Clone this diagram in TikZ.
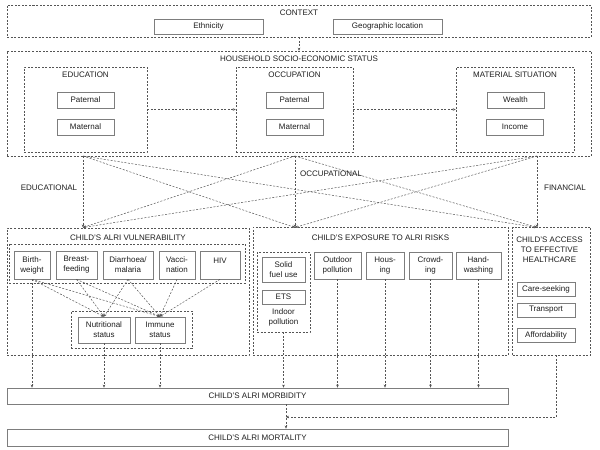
\documentclass[tikz,border=0pt]{standalone}
\usepackage{fontspec}
\setmainfont{Liberation Sans}
\usetikzlibrary{arrows.meta}
\definecolor{boxgray}{RGB}{125,125,125}
\definecolor{dashgray}{RGB}{85,85,85}
\definecolor{txtgray}{RGB}{30,30,30}
\begin{document}
\begin{tikzpicture}[x=1pt,y=-1pt,
  every node/.style={text=txtgray,font=\fontsize{8}{10}\selectfont},
  solidbox/.style={draw=boxgray,line width=0.7pt,inner sep=0pt,align=center},
  groupbox/.style={draw=dashgray,line width=0.5pt,dash pattern=on 2pt off 1.5pt,inner sep=0pt},
  headline/.style={inner sep=0pt,align=center},
  dline/.style={draw=dashgray,line width=0.5pt,dash pattern=on 2pt off 1.5pt,-{Stealth[length=3pt,width=2.6pt]}}]
                \useasboundingbox (0,0) rectangle (600,450);

                % Drawing box CONTEXT
                \node [groupbox,minimum width=584pt,minimum height=32pt] (ctx) at (299.0,21.0) {};%
                \node [headline] (ctxT) at (299.0,12.5) {CONTEXT};%
                \node [solidbox,minimum width=109pt,minimum height=15pt] (ethn) at (208.5,26.5) {Ethnicity};%
                \node [solidbox,minimum width=109pt,minimum height=15pt] (geo) at (387.5,26.5) {Geographic location};%

                % Drawing box HOUSEHOLD
                \node [groupbox,minimum width=584pt,minimum height=105pt] (hh) at (299.0,103.5) {};%
                \node [headline] (hhT) at (299.0,59.0) {HOUSEHOLD SOCIO-ECONOMIC STATUS};%

                % Drawing box EDUCATION
                \node [groupbox,minimum width=123pt,minimum height=85pt] (edu) at (85.5,109.5) {};%
                \node [headline] (eduT) at (85.5,75.0) {EDUCATION};%
                \node [solidbox,minimum width=57pt,minimum height=16pt] (eduP) at (85.5,100.0) {Paternal};%
                \node [solidbox,minimum width=57pt,minimum height=16pt] (eduM) at (85.5,127.0) {Maternal};%

                % Drawing box OCCUPATION
                \node [groupbox,minimum width=117pt,minimum height=85pt] (occ) at (294.5,109.5) {};%
                \node [headline] (occT) at (294.5,75.0) {OCCUPATION};%
                \node [solidbox,minimum width=57pt,minimum height=16pt] (occP) at (294.5,100.0) {Paternal};%
                \node [solidbox,minimum width=57pt,minimum height=16pt] (occM) at (294.5,127.0) {Maternal};%

                % Drawing box MATERIAL SITUATION
                \node [groupbox,minimum width=118pt,minimum height=85pt] (mat) at (515.0,109.5) {};%
                \node [headline] (matT) at (515.0,75.0) {MATERIAL SITUATION};%
                \node [solidbox,minimum width=57pt,minimum height=16pt] (matW) at (515.5,100.0) {Wealth};%
                \node [solidbox,minimum width=57pt,minimum height=16pt] (matI) at (515.0,127.0) {Income};%

                % Drawing arrows inside household
                \draw [dline] (ctx.south) -- (hh.north);%
                \draw [dline] (edu.east) -- (occ.west);%
                \draw [dline] (occ.east) -- (mat.west);%

                % Drawing box CHILD'S ALRI VULNERABILITY
                \node [groupbox,minimum width=242pt,minimum height=127pt] (vul) at (128.0,291.5) {};%
                \node [headline] (vulT) at (128.0,238.0) {CHILD'S ALRI VULNERABILITY};%
                \node [groupbox,minimum width=236pt,minimum height=39pt] (vulG) at (127.0,263.5) {};%
                \node [solidbox,minimum width=36pt,minimum height=28pt] (bw) at (32.0,265.0) {Birth-\\weight};%
                \node [solidbox,minimum width=41pt,minimum height=28pt] (bf) at (76.5,265.0) {Breast-\\feeding};%
                \node [solidbox,minimum width=50pt,minimum height=28pt] (dm) at (128.0,265.0) {Diarrhoea/\\malaria};%
                \node [solidbox,minimum width=36pt,minimum height=28pt] (vac) at (177.0,265.0) {Vacci-\\nation};%
                \node [solidbox,minimum width=40pt,minimum height=28pt,text depth=8pt] (hiv) at (220.0,265.0) {HIV};%
                \node [groupbox,minimum width=121pt,minimum height=37pt] (nutG) at (131.5,329.5) {};%
                \node [solidbox,minimum width=52pt,minimum height=26pt] (nut) at (104.0,330.0) {Nutritional\\status};%
                \node [solidbox,minimum width=50pt,minimum height=26pt] (imm) at (160.0,330.0) {Immune\\status};%

                % Drawing box CHILD'S EXPOSURE TO ALRI RISKS
                \node [groupbox,minimum width=255pt,minimum height=128pt] (exp) at (380.5,291.0) {};%
                \node [headline] (expT) at (380.5,238.0) {CHILD'S EXPOSURE TO ALRI RISKS};%
                \node [groupbox,minimum width=53pt,minimum height=80pt] (ind) at (283.5,292.0) {};%
                \node [solidbox,minimum width=43pt,minimum height=25pt] (sfu) at (283.5,269.5) {Solid\\fuel use};%
                \node [solidbox,minimum width=43pt,minimum height=14pt] (ets) at (283.5,297.0) {ETS};%
                \node [headline] (indT) at (283.5,317.0) {Indoor\\pollution};%
                \node [solidbox,minimum width=47pt,minimum height=27pt] (outd) at (337.5,265.5) {Outdoor\\pollution};%
                \node [solidbox,minimum width=38pt,minimum height=27pt] (hous) at (385.0,265.5) {Hous-\\ing};%
                \node [solidbox,minimum width=43pt,minimum height=27pt] (crowd) at (430.5,265.5) {Crowd-\\ing};%
                \node [solidbox,minimum width=45pt,minimum height=27pt] (hand) at (478.5,265.5) {Hand-\\washing};%

                % Drawing box CHILD'S ACCESS TO EFFECTIVE HEALTHCARE
                \node [groupbox,minimum width=78pt,minimum height=128pt] (acc) at (551.5,291.0) {};%
                \node [headline] (accT) at (549.5,250.0) {CHILD'S ACCESS\\TO EFFECTIVE\\HEALTHCARE};%
                \node [solidbox,minimum width=58pt,minimum height=14pt] (care) at (546.0,289.5) {Care-seeking};%
                \node [solidbox,minimum width=58pt,minimum height=14pt] (trans) at (546.0,310.0) {Transport};%
                \node [solidbox,minimum width=58pt,minimum height=14pt] (afford) at (546.0,335.0) {Affordability};%

                % Drawing boxes MORBIDITY and MORTALITY
                \node [solidbox,minimum width=501pt,minimum height=16pt] (morb) at (257.5,396.0) {CHILD'S ALRI MORBIDITY};%
                \node [solidbox,minimum width=501pt,minimum height=17pt] (mort) at (257.5,437.5) {CHILD'S ALRI MORTALITY};%

                % Drawing pathway lines from household status
                \coordinate (eduOut) at (83.0,156.0);%
                \coordinate (occOut) at (295.0,156.0);%
                \coordinate (matOut) at (537.0,156.0);%
                \coordinate (vulIn) at (83.0,227.5);%
                \coordinate (expIn) at (295.0,227.5);%
                \coordinate (accIn) at (537.0,227.5);%
                \foreach \s in {eduOut,occOut,matOut}
                  \foreach \t in {vulIn,expIn,accIn}
                    \draw [dline] (\s) -- (\t);%
                \node [headline] (eduL) at (49.0,188.0) {EDUCATIONAL};%
                \node [headline] (occL) at (331.0,174.0) {OCCUPATIONAL};%
                \node [headline] (finL) at (565.0,188.0) {FINANCIAL};%

                % Drawing lines inside vulnerability
                \foreach \s in {bw,bf,dm}
                  \draw [dline] (\s.south) -- (nut.north);%
                \foreach \s in {bw,bf,dm,vac,hiv}
                  \draw [dline] (\s.south) -- (imm.north);%

                % Drawing lines down to morbidity
                \foreach \s in {bw,nut,imm,ind,outd,hous,crowd,hand}
                  \draw [dline] (\s.south) -- (\s.south |- morb.north);%
                \coordinate (accOut) at (556.0,355.0);%
                \coordinate (mm) at (286.0,417.0);%
                \draw [dline] (accOut) |- (mm);%
                \draw [dline] (morb.south -| mm) -- (mort.north -| mm);%
\end{tikzpicture}
\end{document}
